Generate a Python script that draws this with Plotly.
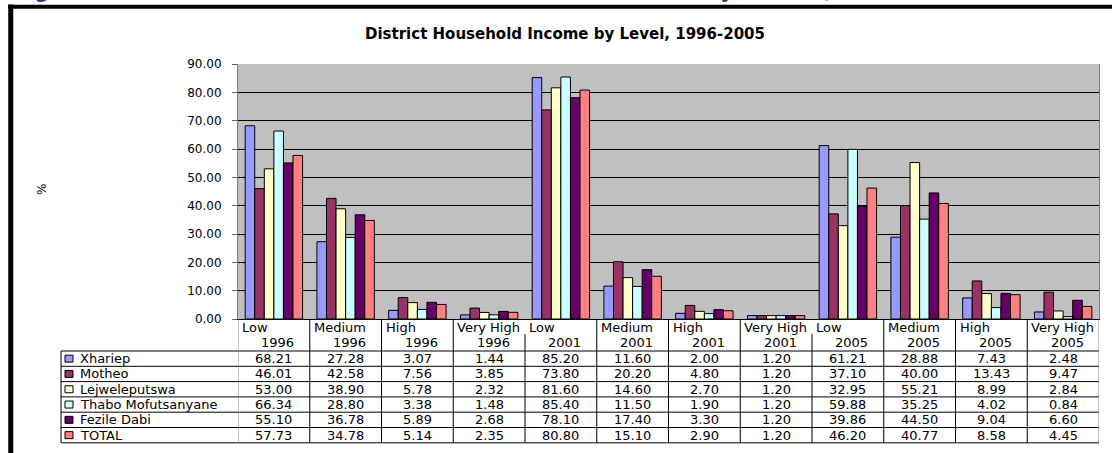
import plotly.graph_objects as go

# datos
niveles = ["Low", "Medium", "High", "Very High"] * 3
anios = ["1996"] * 4 + ["2001"] * 4 + ["2005"] * 4

distritos = ["Xhariep", "Motheo", "Lejweleputswa", "Thabo Mofutsanyane", "Fezile Dabi", "TOTAL"]

xhariep = [68.21, 27.28, 3.07, 1.44, 85.20, 11.60, 2.00, 1.20, 61.21, 28.88, 7.43, 2.48]
motheo = [46.01, 42.58, 7.56, 3.85, 73.80, 20.20, 4.80, 1.20, 37.10, 40.00, 13.43, 9.47]
lejweleputswa = [53.00, 38.90, 5.78, 2.32, 81.60, 14.60, 2.70, 1.20, 32.95, 55.21, 8.99, 2.84]
thabo = [66.34, 28.80, 3.38, 1.48, 85.40, 11.50, 1.90, 1.20, 59.88, 35.25, 4.02, 0.84]
fezile = [55.10, 36.78, 5.89, 2.68, 78.10, 17.40, 3.30, 1.20, 39.86, 44.50, 9.04, 6.60]
total = [57.73, 34.78, 5.14, 2.35, 80.80, 15.10, 2.90, 1.20, 46.20, 40.77, 8.58, 4.45]

valores = [xhariep, motheo, lejweleputswa, thabo, fezile, total]
colores = ["#9999FF", "#993366", "#FFFFCC", "#CCFFFF", "#660066", "#FF8080"]

titulo = "District Household Income by Level, 1996-2005"
encabezado = "Figure 2.6: Distribution of Households in Each Income Level by District, 1996-2005"

# geometria en pixeles (el margen del body se quita con post_script)
W, H = 1112, 453
L, R, T, B = 238, 13, 64, 134
PW, PH = W - L - R, H - T - B
FUENTE = "DejaVu Sans"


def px(x):
    return (x - L) / PW


def py(y):
    return (H - B - y) / PH


categorias = [f"{n} {a}" for n, a in zip(niveles, anios)]

fig = go.Figure()
for nombre, vals, col in zip(distritos, valores, colores):
    fig.add_trace(go.Bar(
        x=categorias, y=vals, name=nombre,
        marker=dict(color=col, line=dict(color="black", width=1))
    ))

fig.update_layout(
    width=W, height=H,
    margin=dict(l=L, r=R, t=T, b=B, pad=0),
    paper_bgcolor="white", plot_bgcolor="#C0C0C0",
    barmode="group", bargap=0.2, bargroupgap=0,
    showlegend=False,
    font=dict(family=FUENTE, color="black"),
    title=dict(text="<b>" + titulo + "</b>", x=565 / W, xanchor="center",
               y=1 - 34 / H, yanchor="middle", yref="container",
               font=dict(size=15, family=FUENTE, color="black")),
)
fig.update_xaxes(type="category", range=[-0.5, 11.5], showticklabels=False,
                 ticks="", showgrid=False, showline=True, linecolor="black",
                 linewidth=1, zeroline=False)
fig.update_yaxes(range=[0, 90], dtick=10, tickformat=".2f", showgrid=True,
                 gridcolor="black", gridwidth=1, zeroline=False,
                 showline=True, linecolor="#808080", linewidth=1, mirror=True,
                 ticks="outside", ticklen=5, tickcolor="#606060",
                 ticklabelstandoff=8, tickfont=dict(size=12, family=FUENTE))

formas = []
anot = []

# marco negro del documento
formas.append(dict(type="line", xref="paper", yref="paper", x0=px(10.75), x1=px(10.75),
                   y0=py(4.5), y1=py(H + 5), line=dict(color="black", width=5)))
formas.append(dict(type="line", xref="paper", yref="paper", x0=px(8), x1=px(W + 5),
                   y0=py(6.75), y1=py(6.75), line=dict(color="black", width=4)))

# encabezado azul recortado (solo se ven los trazos inferiores)
anot.append(dict(text="<b>" + encabezado + "</b>", xref="paper", yref="paper",
                 x=px(11.4), y=py(-11), xanchor="left", yanchor="middle",
                 showarrow=False, font=dict(size=24, family="Liberation Sans", color="#1F3A93")))

# titulo eje y
anot.append(dict(text="%", xref="paper", yref="paper", x=px(33), y=py(190),
                 textangle=-90, showarrow=False, font=dict(size=12, family=FUENTE)))

# tabla de datos
filas = [351 + k * 15.3 for k in range(7)]
t_izq, t_der = 61, L + PW
for yf in filas:
    formas.append(dict(type="line", xref="paper", yref="paper", x0=px(t_izq), x1=px(t_der),
                       y0=py(yf), y1=py(yf), line=dict(color="black", width=1)))
formas.append(dict(type="line", xref="paper", yref="paper", x0=px(t_izq), x1=px(t_izq),
                   y0=py(filas[0]), y1=py(filas[-1]), line=dict(color="black", width=1)))
for i in range(len(categorias) + 1):
    y_ini = 319
    if 0 < i < len(categorias) and niveles[i - 1] == "Very High":
        y_ini = 334
    formas.append(dict(type="line", xref="x", yref="paper", x0=i - 0.5, x1=i - 0.5,
                       y0=py(y_ini), y1=py(filas[-1]),
                       line=dict(color="#808080" if i in (0, len(categorias)) else "black", width=1)))

for i, (n, a) in enumerate(zip(niveles, anios)):
    anot.append(dict(text=n, xref="x", yref="paper", x=i - 0.5, xshift=2, y=py(327.5),
                     xanchor="left", yanchor="middle", showarrow=False,
                     font=dict(size=13, family=FUENTE)))
    anot.append(dict(text=a, xref="x", yref="paper", x=i, xshift=4, y=py(342),
                     xanchor="center", yanchor="middle", showarrow=False,
                     font=dict(size=13, family=FUENTE)))

for k, (nombre, vals, col) in enumerate(zip(distritos, valores, colores)):
    yc = (filas[k] + filas[k + 1]) / 2
    formas.append(dict(type="rect", xref="paper", yref="paper", x0=px(65), x1=px(73),
                       y0=py(yc - 3.5), y1=py(yc + 3.5), fillcolor=col,
                       line=dict(color="black", width=1)))
    anot.append(dict(text=nombre, xref="paper", yref="paper", x=px(78), y=py(yc),
                     xanchor="left", yanchor="middle", showarrow=False,
                     font=dict(size=13, family=FUENTE)))
    for i, v in enumerate(vals):
        anot.append(dict(text=f"{v:.2f}", xref="x", yref="paper", x=i, y=py(yc),
                         xanchor="center", yanchor="middle", showarrow=False,
                         font=dict(size=13, family=FUENTE)))

fig.update_layout(shapes=formas, annotations=anot)

fig.write_html("out.html", config={"displayModeBar": False},
               post_script="document.body.style.margin='0';")
